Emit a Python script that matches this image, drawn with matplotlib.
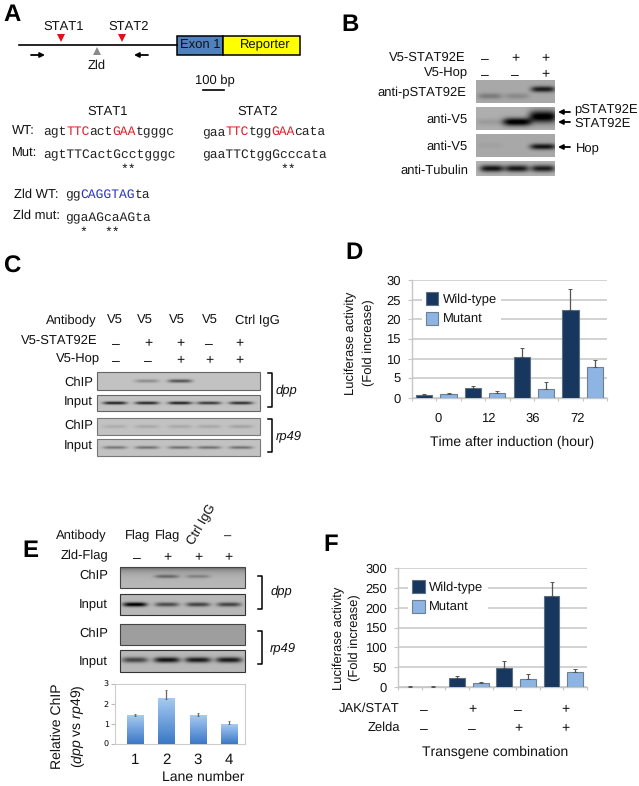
import numpy as np
import matplotlib
matplotlib.use("Agg")
import matplotlib.pyplot as plt
from matplotlib.patches import Rectangle

plt.rcParams["font.family"] = ["Liberation Sans", "DejaVu Sans"]
plt.rcParams["mathtext.fontset"] = "custom"
plt.rcParams["mathtext.rm"] = "Liberation Sans"
plt.rcParams["mathtext.it"] = "Liberation Sans:italic"
plt.rcParams["text.hinting"] = "no_hinting"
plt.rcParams["text.hinting_factor"] = 1

W, H = 639, 786

# panel D
d_groups = ["0", "12", "36", "72"]
d_wt = [0.8, 2.6, 10.3, 22.5]
d_wt_err = [0.15, 0.4, 2.4, 5.2]
d_mut = [1.0, 1.3, 2.3, 7.8]
d_mut_err = [0.2, 0.5, 1.8, 1.9]

# panel E
e_lanes = ["1", "2", "3", "4"]
e_vals = [1.42, 2.25, 1.42, 1.0]
e_err = [0.08, 0.45, 0.15, 0.17]

# panel F
f_wt = [1, 23, 48, 230]
f_wt_err = [0.5, 5, 17, 35]
f_mut = [1, 10, 20, 37]
f_mut_err = [0.5, 2, 13, 9]
f_jak = ["–", "+", "–", "+"]
f_zelda = ["–", "–", "+", "+"]

# band strength per lane on the gels
b_pstat = [0.18, 0.12, 0.55]
b_v5a = [0.07, 0.72, 0.72]
b_v5b = [0.03, 0.0, 0.58]
b_tub = [0.62, 0.6, 0.58]
c_dpp_chip = [0.0, 0.2, 0.42, 0.0, 0.0]
c_dpp_input = [0.6, 0.58, 0.6, 0.52, 0.55]
c_rp_chip = [0.08, 0.1, 0.1, 0.1, 0.12]
c_rp_input = [0.28, 0.3, 0.3, 0.3, 0.3]
e_dpp_chip = [0.0, 0.28, 0.18, 0.0]
e_dpp_input = [0.72, 0.42, 0.45, 0.45]
e_rp_chip = [0.0, 0.0, 0.0, 0.0]
e_rp_input = [0.45, 0.65, 0.62, 0.62]

NAVY = "#17375e"
LIGHT = "#8db4e2"
GRID = "#c6c6c6"

fig = plt.figure(figsize=(W / 100, H / 100), dpi=100)
bg = fig.add_axes([0, 0, 1, 1])
bg.axis("off")


def t(x, y, s, size=9.1, ha="center", va="center", **kw):
    bg.text(x, y, s, fontsize=size, ha=ha, va=va, color=kw.pop("color", "#111111"), **kw)


def panel_letter(x, y, s):
    t(x, y, s, size=17, ha="left", fontweight="bold", color="black")


def gel(box, strengths, centers, bw, bh, base=0.7, yfrac=0.5, edge=None, top=0.0):
    x0, y0, x1, y1 = box
    xs = np.arange(x0, x1) + 0.5
    ys = np.arange(y0, y1) + 0.5
    img = np.full((len(ys), len(xs)), float(base))
    img -= top * np.exp(-(ys - y0) / 4)[:, None]
    yfracs = np.broadcast_to(yfrac, (len(strengths),))
    bhs = np.broadcast_to(bh, (len(strengths),))
    for c, s, yf, h in zip(centers, strengths, yfracs, bhs):
        yc = y0 + yf * (y1 - y0)
        img -= s * np.exp(-((xs - c) / bw) ** 4)[None, :] * np.exp(-((ys - yc) / h) ** 2)[:, None]
    bg.imshow(np.clip(img, 0, 1), extent=(x0, x1, y1, y0), cmap="gray", vmin=0, vmax=1,
              interpolation="bilinear", aspect="auto")
    if edge:
        bg.add_patch(Rectangle((x0, y0), x1 - x0, y1 - y0, fill=False, ec=edge, lw=0.8))


def arrow(x0, y, x1, color="black"):
    bg.annotate("", xy=(x1, y), xytext=(x0, y),
                arrowprops=dict(arrowstyle="-|>", color=color, lw=1.3, mutation_scale=7,
                                shrinkA=0, shrinkB=0))


def bracket(x0, x1, y0, y1):
    bg.plot([x0, x1, x1, x0], [y0, y0, y1, y1], color="black", lw=1.1)


def seq(x, y, parts, cw=7.72):
    for s, color in parts:
        t(x, y, s, size=9.25, ha="left", family="Liberation Mono", color=color)
        x += cw * len(s)


def px_axes(x0, y0, x1, y1):
    return fig.add_axes([x0 / W, 1 - y1 / H, (x1 - x0) / W, (y1 - y0) / H])


def luc_chart(box, wt, wt_err, mut, mut_err, ymax, step, legend_anchor):
    ax = px_axes(*box)
    x = np.arange(len(wt))
    ax.bar(x * 2 + 0.5, wt, 0.67, color=NAVY, edgecolor="#5f6f82", lw=0.8, zorder=3, label="Wild-type")
    ax.bar(x * 2 + 1.5, mut, 0.67, color=LIGHT, edgecolor="#6f7f92", lw=0.8, zorder=3, label="Mutant")
    ax.errorbar(x * 2 + 0.5, wt, yerr=[np.zeros(len(wt)), wt_err], fmt="none", ecolor="#555555",
                elinewidth=0.9, capsize=1.2, capthick=0.7, zorder=4)
    ax.errorbar(x * 2 + 1.5, mut, yerr=[np.zeros(len(mut)), mut_err], fmt="none", ecolor="#555555",
                elinewidth=0.9, capsize=1.2, capthick=0.7, zorder=4)
    ax.set_xlim(0, 8)
    ax.set_ylim(0, ymax)
    ax.set_yticks(np.arange(0, ymax + 1, step))
    ax.set_xticks(np.arange(0, 9))
    ax.set_xticklabels([])
    ax.yaxis.grid(True, color=GRID, lw=1.1, zorder=0)
    ax.set_axisbelow(True)
    for side in ["top", "right"]:
        ax.spines[side].set_visible(False)
    for side in ["left", "bottom"]:
        ax.spines[side].set_color(GRID)
        ax.spines[side].set_linewidth(1.0)
    ax.tick_params(axis="y", labelsize=9.3, length=3, color=GRID, pad=5, labelcolor="#111111")
    ax.tick_params(axis="x", length=2.5, color=GRID, direction="out")
    ax.patch.set_alpha(0)
    leg = ax.legend(loc="upper left", bbox_to_anchor=legend_anchor, frameon=True, framealpha=1,
                    facecolor="white", edgecolor="none", fancybox=False, fontsize=9.6,
                    handlelength=0.92, handleheight=1.1, handletextpad=0.35, labelspacing=0.45,
                    borderpad=0.3, borderaxespad=0)
    leg.set_zorder(5)
    for txt in leg.get_texts():
        txt.set_color("#111111")
    return ax


# A
panel_letter(3, 15, "A")
t(64, 27, "STAT1")
t(129, 27, "STAT2")
bg.plot([19, 177], [45, 45], color="black", lw=1.2)
bg.plot([61, 122], [38, 38], "v", color="#e0101a", ms=5.5, mew=0)
bg.plot([97], [51], marker="^", color="#8a8a8a", ms=6, mew=0)
arrow(31, 55, 45)
arrow(148, 55, 134)
t(97, 66, "Zld")
bg.add_patch(Rectangle((177, 36), 46, 19, fc="#4f81bd", ec="black", lw=1.1))
bg.add_patch(Rectangle((223, 36), 77, 19, fc="#ffff00", ec="black", lw=1.1))
t(200, 46, "Exon 1")
t(265, 45, "Reporter")
t(215, 81, "100 bp")
bg.plot([203, 224], [90, 90], color="black", lw=1.2)
t(108, 112, "STAT1")
t(258, 112, "STAT2")
t(12, 131, "WT:", ha="left")
t(12, 154, "Mut:", ha="left")
RED = "#e0202a"
INK = "#222222"
seq(43, 132, [("agt", INK), ("TTC", RED), ("act", INK), ("GAA", RED), ("tgggc", INK)])
seq(43, 155, [("agtTTCactGcctgggc", INK)])
seq(202, 132, [("gaa", INK), ("TTC", RED), ("tgg", INK), ("GAA", RED), ("cata", INK)])
seq(202, 155, [("gaaTTCtggGcccata", INK)])
t(128, 169, "**", family="Liberation Mono")
t(288, 169, "**", family="Liberation Mono")
t(14, 195, "Zld WT:", ha="left")
t(13, 216, "Zld mut:", ha="left")
seq(65, 195, [("gg", INK), ("CAGGTAG", "#2a35c0"), ("ta", INK)])
seq(65, 218, [("ggaAGcaAGta", INK)])
t(83, 232, "*", family="Liberation Mono")
t(112, 232, "**", family="Liberation Mono")

# B
panel_letter(341, 25, "B")
t(466, 58, "V5-STAT92E", ha="right")
t(468, 73, "V5-Hop", ha="right")
for x, a, b in zip([485, 515, 545], ["–", "+", "+"], ["–", "–", "+"]):
    t(x, 58, a, size=10)
    t(x, 74, b, size=10)
b_lanes = [490, 517, 543]
gel((476, 80, 555, 103), b_pstat, b_lanes, 12, [3, 3, 3], base=0.66, yfrac=[0.7, 0.7, 0.4])
gel((476, 107, 555, 130), b_v5a, b_lanes, 14, [3.5, 4, 6], base=0.68, yfrac=[0.65, 0.65, 0.42])
gel((476, 134, 555, 157), b_v5b, b_lanes, 13, [3, 3, 3], base=0.66, yfrac=[0.5, 0.5, 0.55])
gel((476, 161, 555, 176), b_tub, [492, 517, 543], 12, 3.5, base=0.7)
t(466, 93, "anti-pSTAT92E", ha="right")
t(468, 120, "anti-V5", ha="right")
t(468, 147, "anti-V5", ha="right")
t(468, 171, "anti-Tubulin", ha="right")
arrow(570, 112, 558)
arrow(570, 122, 558)
arrow(570, 147, 558)
t(574, 109, "pSTAT92E", ha="left")
t(574, 124, "STAT92E", ha="left")
t(576, 149, "Hop", ha="left")

# C
panel_letter(3, 267, "C")
t(97, 321, "Antibody", ha="right")
for x, s in zip([115, 145, 177, 210, 257], ["V5", "V5", "V5", "V5", "Ctrl IgG"]):
    t(x, 321, s)
t(98, 341, "V5-STAT92E", ha="right")
t(100, 359, "V5-Hop", ha="right")
for x, a, b in zip([116, 148, 180, 209, 239], ["–", "+", "+", "–", "+"], ["–", "–", "+", "+", "+"]):
    t(x, 343, a, size=10)
    t(x, 360, b, size=10)
c_lanes = [115, 147, 180, 209, 241]
gel((97, 372, 260, 390), c_dpp_chip, c_lanes, 12, 1.8, base=0.76, edge="#666666")
gel((97, 395, 260, 411), c_dpp_input, c_lanes, 12, 1.6, base=0.76, edge="#666666")
gel((97, 418, 260, 435), c_rp_chip, c_lanes, 12, 1.8, base=0.76, edge="#777777")
gel((97, 439, 260, 456), c_rp_input, c_lanes, 12, 1.6, base=0.76, edge="#777777")
for y, s in zip([383, 402, 426, 446], ["ChIP", "Input", "ChIP", "Input"]):
    t(93, y, s, ha="right")
bracket(268, 272, 373, 407)
bracket(268, 272, 419, 452)
t(276, 391, "dpp", ha="left", style="italic")
t(276, 436, "rp49", ha="left", style="italic")

# D
panel_letter(345, 253, "D")
luc_chart((412, 280, 607, 398), d_wt, d_wt_err, d_mut, d_mut_err, 30, 5, (0.05, 0.93))
for x, s in zip([438, 488, 533, 578], d_groups):
    t(x, 419, s, size=9.7)
t(512, 442, "Time after induction (hour)", size=10.3)
t(351, 343, "Luciferase activity", size=9, rotation=90)
t(369, 343, "(Fold increase)", size=9, rotation=90)

# E
panel_letter(22, 551, "E")
t(107, 536, "Antibody", ha="right")
for x, s in zip([138, 168, 228], ["Flag", "Flag", "–"]):
    t(x, 536, s)
t(202, 525, "Ctrl IgG", rotation=60)
t(108, 556, "Zld-Flag", ha="right")
for x, s in zip([137, 167, 198, 228], ["–", "+", "+", "+"]):
    t(x, 557, s, size=10)
e_pos = [135, 167, 198, 229]
gel((120, 567, 245, 588), e_dpp_chip, e_pos, 12, 1.8, base=0.72, yfrac=0.45, edge="#444444", top=0.35)
gel((120, 594, 245, 615), e_dpp_input, e_pos, 12, 2.2, base=0.72, yfrac=0.5, edge="#333333")
gel((120, 624, 245, 645), e_rp_chip, e_pos, 12, 2, base=0.62, edge="#444444")
gel((120, 650, 245, 672), e_rp_input, e_pos, 13, 2.8, base=0.72, yfrac=0.45, edge="#333333")
for y, s in zip([576, 605, 634, 662], ["ChIP", "Input", "ChIP", "Input"]):
    t(108, y, s, ha="right")
bracket(258, 262, 576, 609)
bracket(258, 262, 631, 664)
t(271, 592, "dpp", ha="left", style="italic")
t(270, 648, "rp49", ha="left", style="italic")

ax_e = px_axes(115, 684, 245, 744)
pos = np.arange(len(e_vals))
bars = ax_e.bar(pos, e_vals, 0.52, color="none", edgecolor="none", zorder=3)
grad = np.linspace(0, 1, 64)[:, None]
for rect in bars:
    im = ax_e.imshow(grad, extent=(rect.get_x(), rect.get_x() + rect.get_width(), 0, rect.get_height()),
                     cmap=matplotlib.colors.LinearSegmentedColormap.from_list("g", ["#a6caf2", "#3a78c6"]),
                     aspect="auto", zorder=3)
ax_e.errorbar(pos, e_vals, yerr=[np.zeros(len(e_vals)), e_err], fmt="none", ecolor="#666666",
              elinewidth=0.9, capsize=1, capthick=0.6, zorder=4)
ax_e.set_xlim(-0.64, 3.5)
ax_e.set_ylim(0, 3)
ax_e.set_yticks([0, 1, 2, 3])
ax_e.set_xticks(pos)
ax_e.set_xticklabels(e_lanes, fontsize=11, color="#111111")
ax_e.tick_params(axis="x", length=0, pad=6.5)
ax_e.tick_params(axis="y", length=3, color="#bbbbbb", pad=1.5)
for lab in ax_e.get_yticklabels():
    lab.set_fontsize(6)
    lab.set_family("DejaVu Sans")
for s in ax_e.spines.values():
    s.set_color("#cccccc")
    s.set_linewidth(0.8)
t(203, 777, "Lane number", size=10.4)
t(57, 726, "Relative ChIP", size=10.4, rotation=90)
t(78, 726, r"($\mathit{dpp}$ vs $\mathit{rp49}$)", size=10.4, rotation=90)

# F
panel_letter(323, 545, "F")
luc_chart((398, 568, 587, 687), f_wt, f_wt_err, f_mut, f_mut_err, 300, 50, (0.055, 0.93))
t(399, 709, "JAK/STAT", ha="right")
t(400, 728, "Zelda", ha="right")
for x, a, b in zip([424, 472, 518, 565], f_jak, f_zelda):
    t(x, 709, a, size=10)
    t(x, 728, b, size=10)
t(495, 752, "Transgene combination", size=10.1)
t(339, 638, "Luciferase activity", size=9, rotation=90)
t(355, 638, "(Fold increase)", size=9, rotation=90)

bg.set_xlim(0, W)
bg.set_ylim(H, 0)
fig.savefig("out.png", dpi=100)
